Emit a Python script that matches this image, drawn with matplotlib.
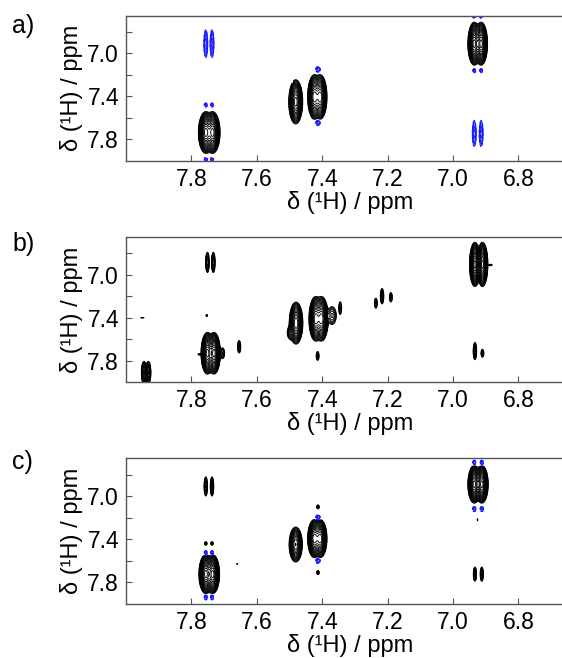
import numpy as np
import matplotlib
matplotlib.use('Agg')
import matplotlib.pyplot as plt

plt.rcParams['font.family'] = ['Liberation Sans', 'DejaVu Sans']

# peaks: (F2 ppm, F1 ppm, height, F2 width, F1 width); negative height -> blue
peaks_a = [
    (7.756, 7.735, 100, 0.0075, 0.064), (7.735, 7.735, 100, 0.0075, 0.064),
    (7.756, 7.48, -4, 0.003, 0.012), (7.737, 7.48, -4, 0.003, 0.012),
    (7.756, 7.985, -4, 0.003, 0.012), (7.737, 7.985, -4, 0.003, 0.012),
    (7.756, 6.91, -8, 0.003, 0.064), (7.737, 6.91, -8, 0.003, 0.064),
    (7.481, 7.45, 60, 0.0075, 0.072),
    (7.424, 7.405, 80, 0.007, 0.07), (7.406, 7.405, 80, 0.007, 0.07),
    (7.413, 7.15, -6, 0.004, 0.014), (7.413, 7.645, -6, 0.004, 0.014),
    (7.49, 7.27, -2, 0.002, 0.005),
    (6.935, 6.91, 100, 0.0065, 0.066), (6.914, 6.91, 100, 0.0065, 0.066),
    (6.935, 6.655, -4, 0.003, 0.012), (6.914, 6.655, -4, 0.003, 0.012),
    (6.935, 7.16, -4, 0.003, 0.012), (6.914, 7.16, -4, 0.003, 0.012),
    (6.935, 7.745, -8, 0.003, 0.06), (6.914, 7.745, -8, 0.003, 0.06),
]

peaks_b = [
    (7.751, 7.73, 100, 0.0065, 0.064), (7.731, 7.73, 100, 0.0065, 0.064),
    (7.705, 7.73, 4, 0.004, 0.03), (7.775, 7.74, 2, 0.004, 0.006),
    (7.751, 6.886, 6, 0.003, 0.05), (7.733, 6.886, 6, 0.003, 0.05),
    (7.753, 7.379, 2, 0.002, 0.008),
    (7.95, 7.40, 1.5, 0.006, 0.002),
    (7.945, 7.91, 15, 0.0035, 0.045), (7.932, 7.91, 15, 0.0035, 0.045),
    (7.654, 7.67, 4, 0.003, 0.035),
    (7.48, 7.45, 50, 0.0075, 0.07), (7.497, 7.54, 4, 0.006, 0.035),
    (7.42, 7.41, 80, 0.007, 0.07), (7.402, 7.41, 80, 0.007, 0.07),
    (7.37, 7.38, 4, 0.008, 0.05),
    (7.345, 7.31, 3, 0.003, 0.04),
    (7.414, 7.755, 3, 0.003, 0.028),
    (7.236, 7.265, 3, 0.003, 0.032), (7.217, 7.2, 5, 0.003, 0.04), (7.19, 7.21, 3, 0.003, 0.03),
    (6.933, 6.905, 100, 0.0055, 0.068), (6.910, 6.905, 100, 0.0055, 0.068),
    (6.885, 6.91, 2, 0.004, 0.006),
    (6.933, 7.71, 5, 0.003, 0.045), (6.91, 7.73, 3, 0.003, 0.025),
]

peaks_c = [
    (7.756, 7.725, 100, 0.007, 0.06), (7.735, 7.725, 100, 0.007, 0.06),
    (7.756, 7.53, -5, 0.003, 0.014), (7.737, 7.53, -5, 0.003, 0.014),
    (7.756, 7.94, -5, 0.003, 0.014), (7.737, 7.94, -5, 0.003, 0.014),
    (7.756, 7.44, 2.5, 0.003, 0.012), (7.737, 7.44, 2.5, 0.003, 0.012),
    (7.756, 6.91, 5, 0.003, 0.05), (7.737, 6.91, 5, 0.003, 0.05),
    (7.66, 7.63, 1.5, 0.002, 0.004),
    (7.481, 7.45, 40, 0.0075, 0.06),
    (7.424, 7.395, 80, 0.007, 0.06), (7.406, 7.395, 80, 0.007, 0.06),
    (7.413, 7.20, -6, 0.004, 0.014), (7.413, 7.60, -6, 0.004, 0.014),
    (7.413, 7.10, 2.5, 0.003, 0.014), (7.413, 7.71, 2.5, 0.003, 0.014),
    (6.935, 6.89, 100, 0.0065, 0.058), (6.912, 6.89, 100, 0.0065, 0.058),
    (6.935, 6.69, -5, 0.003, 0.014), (6.912, 6.69, -5, 0.003, 0.014),
    (6.935, 7.12, -5, 0.003, 0.014), (6.912, 7.12, -5, 0.003, 0.014),
    (6.925, 7.22, 1.5, 0.001, 0.012),
    (6.933, 7.725, 4, 0.003, 0.04), (6.912, 7.725, 4, 0.003, 0.04),
]

x_ticks = [7.8, 7.6, 7.4, 7.2, 7.0, 6.8]
y_ticks = [6.8, 7.0, 7.2, 7.4, 7.6, 7.8]
y_ticklabels = ['', '7.0', '', '7.4', '', '7.8']
panel_labels = ['a)', 'b)', 'c)']
axis_label = 'δ (¹H) / ppm'


def spectrum(peaks, x, y):
    X, Y = np.meshgrid(x, y)
    Z = np.zeros_like(X)
    for px, py, h, wx, wy in peaks:
        Z += h * np.exp(-0.5 * ((X - px) / wx) ** 2 - 0.5 * ((Y - py) / wy) ** 2)
    return Z


fig = plt.figure(figsize=(5.62, 6.58), dpi=100)
x = np.linspace(8.0, 6.63, 1500)
y = np.linspace(6.65, 8.0, 800)
levels = 1.3 ** np.arange(18)
bottoms = [0.7553, 0.419, 0.0825]
label_tops = [0.978, 0.648, 0.316]

for peaks, label, b, lt in zip([peaks_a, peaks_b, peaks_c], panel_labels, bottoms, label_tops):
    ax = fig.add_axes([0.2242, b, 0.796, 0.2208])
    Z = spectrum(peaks, x, y)
    ax.contour(x, y, Z, levels=levels, colors='black', linewidths=0.65)
    if Z.min() < -1:
        ax.contour(x, y, Z, levels=-levels[::-1], colors='#1a1aff', linewidths=0.65)
    ax.set_xlim(8.0, 6.632)
    ax.set_ylim(8.0, 6.65)
    ax.set_xticks(x_ticks)
    ax.set_xticklabels(['%.1f' % t for t in x_ticks])
    ax.set_yticks(y_ticks)
    ax.set_yticklabels(y_ticklabels)
    ax.tick_params(direction='in', length=4, width=0.8, color='#555555',
                   labelsize=16.5, pad=5)
    for s in ax.spines.values():
        s.set_color('#555555')
        s.set_linewidth(1.0)
    ax.set_xlabel(axis_label, fontsize=17, labelpad=0)
    ax.set_ylabel(axis_label, fontsize=17, labelpad=3)
    fig.text(0.022, lt, label, fontsize=18, va='top')

fig.savefig('out.png', dpi=100)
